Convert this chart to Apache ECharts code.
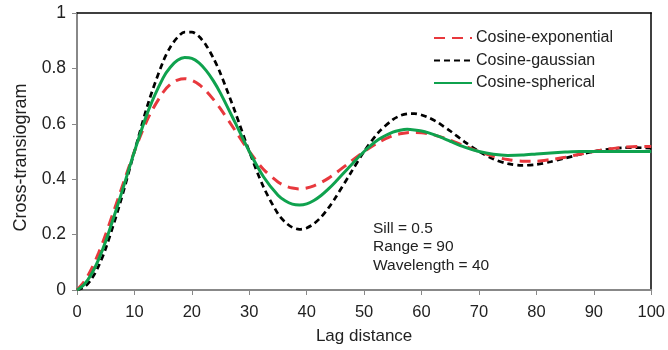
<!DOCTYPE html>
<html><head><meta charset="utf-8">
<script src="https://cdn.jsdelivr.net/npm/echarts@6/dist/echarts.min.js"></script>
<style>html,body{margin:0;padding:0;background:#fff}#c{width:668px;height:350px}</style>
</head><body><div id="c"></div>
<script>
// lag distances (denser sampling around the peaks and troughs)
const lags = [0,1.25,2.5,3.75,5,7.5,10,12.5,15,16.25,17.5,18.75,20,21.25,22.5,23.75,25,27.5,30,32.5,35,36.25,37.5,38.75,40,41.25,42.5,43.75,45,47.5,50,52.5,55,56.25,57.5,58.75,60,61.25,62.5,63.75,65,67.5,70,72.5,75,77.5,80,82.5,85,87.5,90,92.5,95,97.5,100];
const cosExponential = [0,0.030,0.075,0.133,0.201,0.351,0.5,0.626,0.714,0.742,0.758,0.763,0.757,0.742,0.718,0.688,0.654,0.577,0.5,0.435,0.390,0.376,0.368,0.365,0.368,0.376,0.388,0.403,0.421,0.461,0.5,0.533,0.557,0.564,0.568,0.569,0.568,0.564,0.558,0.550,0.541,0.520,0.5,0.483,0.471,0.465,0.465,0.471,0.479,0.490,0.5,0.509,0.515,0.518,0.518];
const cosGaussian = [0,0.010,0.039,0.086,0.150,0.313,0.5,0.681,0.825,0.877,0.912,0.931,0.931,0.915,0.883,0.837,0.781,0.645,0.5,0.371,0.275,0.245,0.226,0.219,0.224,0.239,0.263,0.295,0.333,0.417,0.5,0.569,0.615,0.629,0.636,0.637,0.632,0.622,0.609,0.592,0.574,0.535,0.5,0.473,0.456,0.450,0.453,0.463,0.476,0.489,0.5,0.508,0.513,0.514,0.512];
const cosSpherical = [0,0.020,0.057,0.110,0.176,0.333,0.5,0.652,0.766,0.804,0.829,0.839,0.836,0.820,0.792,0.755,0.710,0.606,0.5,0.408,0.342,0.322,0.310,0.307,0.311,0.323,0.341,0.364,0.390,0.446,0.5,0.543,0.570,0.577,0.580,0.578,0.574,0.567,0.558,0.548,0.537,0.516,0.5,0.490,0.486,0.487,0.491,0.495,0.498,0.500,0.5,0.5,0.5,0.5,0.5];
const xTicks = [0,10,20,30,40,50,60,70,80,90,100];
const yTicks = [0,0.2,0.4,0.6,0.8,1];
const notes = ['Sill = 0.5','Range = 90','Wavelength = 40'];

const pairs = v => lags.map((h,i)=>[h,v[i]]);
const font = 'Liberation Sans, Arial, sans-serif';
const chart = echarts.init(document.getElementById('c'));
chart.setOption({
  animation:false,
  grid:{left:77,right:16,top:13,bottom:60},
  legend:{orient:'vertical',left:428,top:25,itemWidth:38,itemHeight:14,itemGap:6.5,
    itemStyle:{opacity:0},
    textStyle:{fontFamily:font,fontSize:16,color:'#222',padding:[0,0,0,-1]},
    data:['Cosine-exponential','Cosine-gaussian','Cosine-spherical']},
  graphic:[{type:'text',left:373,top:219,style:{text:notes.join('\n'),fontFamily:font,fontSize:15.5,lineHeight:18.5,fill:'#222'}}],
  xAxis:[{type:'value',min:0,max:100,interval:10,name:'Lag distance',nameLocation:'middle',nameGap:38,
    nameTextStyle:{fontFamily:font,fontSize:17,color:'#222'},
    axisLine:{onZero:false,lineStyle:{color:'#888',width:2}},axisTick:{length:5,lineStyle:{color:'#888',width:1}},
    axisLabel:{fontFamily:font,fontSize:16.5,color:'#222',margin:14,formatter:v=>xTicks.includes(v)?String(v):''},
    splitLine:{show:false}},
    {type:'value',position:'top',min:0,max:100,axisLine:{show:true,onZero:false,lineStyle:{color:'#000',width:1.5}},axisTick:{show:false},axisLabel:{show:false},splitLine:{show:false}}],
  yAxis:[{type:'value',min:0,max:1,interval:0.2,name:'Cross-transiogram',nameLocation:'middle',nameGap:47,
    nameTextStyle:{fontFamily:font,fontSize:18,color:'#222',padding:[0,12,0,0]},
    axisLine:{show:true,onZero:false,lineStyle:{color:'#888',width:2}},axisTick:{show:true,length:5,lineStyle:{color:'#888',width:1}},
    axisLabel:{fontFamily:font,fontSize:17.5,color:'#222',margin:11,formatter:v=>{const t=yTicks.find(x=>Math.abs(x-v)<1e-9);return t===undefined?'':String(t);}},
    splitLine:{show:false}},
    {type:'value',position:'right',min:0,max:1,axisLine:{show:true,onZero:false,lineStyle:{color:'#000',width:1.5}},axisTick:{show:false},axisLabel:{show:false},splitLine:{show:false}}],
  series:[
    {name:'Cosine-exponential',type:'line',data:pairs(cosExponential),smooth:0.3,symbol:'none',z:3,
      lineStyle:{color:'#E8383D',width:3,type:[11,7]},itemStyle:{color:'#E8383D'}},
    {name:'Cosine-gaussian',type:'line',data:pairs(cosGaussian),smooth:0.3,symbol:'none',z:2,
      lineStyle:{color:'#000',width:2.7,type:[6,4]},itemStyle:{color:'#000'}},
    {name:'Cosine-spherical',type:'line',data:pairs(cosSpherical),smooth:0.3,symbol:'none',z:4,
      lineStyle:{color:'#0FA24E',width:3},itemStyle:{color:'#0FA24E'}}
  ]
});
</script></body></html>
